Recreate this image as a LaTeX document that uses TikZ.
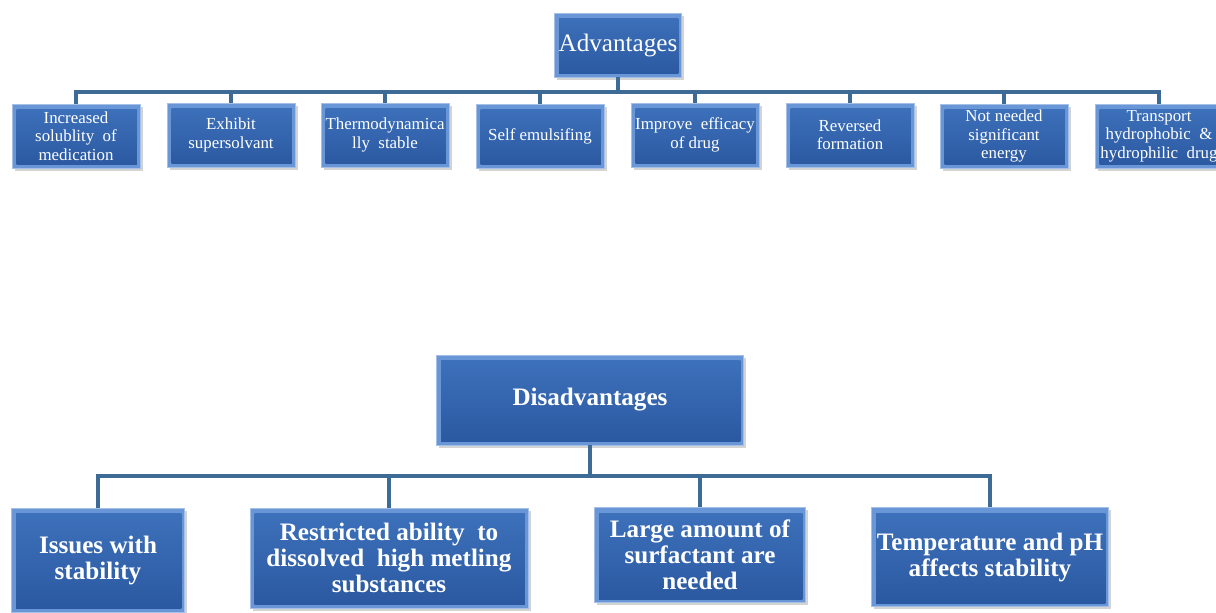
\documentclass[tikz,border=0pt]{standalone}
\usepackage{fontspec}
\setmainfont{Liberation Serif}
\usepackage{tikz}
\usetikzlibrary{shadows}

\definecolor{bevel}{RGB}{104,150,214}
\definecolor{facetop}{RGB}{62,114,188}
\definecolor{facebot}{RGB}{42,88,160}
\definecolor{linkcol}{RGB}{62,106,150}

\tikzset{
  panel/.style={rectangle, fill=bevel, draw=bevel!60!white, line width=0.4pt,
    text=white, align=center, inner sep=1pt,
    drop shadow={opacity=0.35, shadow xshift=1.5pt, shadow yshift=-1.5pt},
    path picture={
      \fill[top color=facetop, bottom color=facebot]
        ([shift={(2.6pt,-3.4pt)}]path picture bounding box.north west)
        rectangle ([shift={(-1.8pt,1.8pt)}]path picture bounding box.south east);
    }},
  small/.style={panel, minimum width=2.56cm, minimum height=1.28cm,
    font=\fontsize{9.6}{10.5}\selectfont},
  big/.style={panel, font=\fontsize{14.3}{14.8}\selectfont\bfseries},
  link/.style={draw=linkcol, line width=2.2pt}
}

\begin{document}
\begin{tikzpicture}[x=0.02cm, y=-0.02cm]
  \useasboundingbox (0,0) rectangle (1216,612);

  % Advantages
  \node[panel, minimum width=2.54cm, minimum height=1.28cm,
        font=\fontsize{14.3}{15}\selectfont] (adv) at (618,45) {Advantages};

  \node[small] (a1) at (76,136)   {Increased\\solublity\ \ of\\medication};
  \node[small] (a2) at (231,135)  {Exhibit\\supersolvant};
  \node[small] (a3) at (385,135)  {Thermodynamica\\lly\ \ stable};
  \node[small] (a4) at (540,136)  {Self emulsifing};
  \node[small] (a5) at (695,135)  {Improve\ \ efficacy\\of drug};
  \node[small] (a6) at (850,135)  {Reversed\\formation};
  \node[small] (a7) at (1004,136) {Not needed\\significant\\energy};
  \node[small] (a8) at (1159,136) {Transport\\hydrophobic\ \ \&\\hydrophilic\ \ drug};

  % ツリーの線
  \foreach \c in {a1,a2,a3,a4,a5,a6,a7,a8}
    \draw[link] (adv.south) -- ++(0,15) -| (\c.north);

  % Disadvantages
  \node[big, minimum width=6.14cm, minimum height=1.8cm] (dis) at (590,400) {Disadvantages};

  \node[big, minimum width=3.46cm, minimum height=2.08cm] (d1) at (98,560)  {Issues with\\stability};
  \node[big, minimum width=5.56cm, minimum height=2.0cm] (d2) at (389,558) {Restricted ability\ \ to\\dissolved\ \ high\ metling\\substances};
  \node[big, minimum width=4.22cm, minimum height=1.9cm] (d3) at (700,555) {Large amount of\\surfactant are\\needed};
  \node[big, minimum width=4.74cm, minimum height=1.98cm] (d4) at (990,557) {Temperature and pH\\affects stability};

  \foreach \c in {d1,d2,d3,d4}
    \draw[link] (dis.south) -- ++(0,31) -| (\c.north);
\end{tikzpicture}
\end{document}
